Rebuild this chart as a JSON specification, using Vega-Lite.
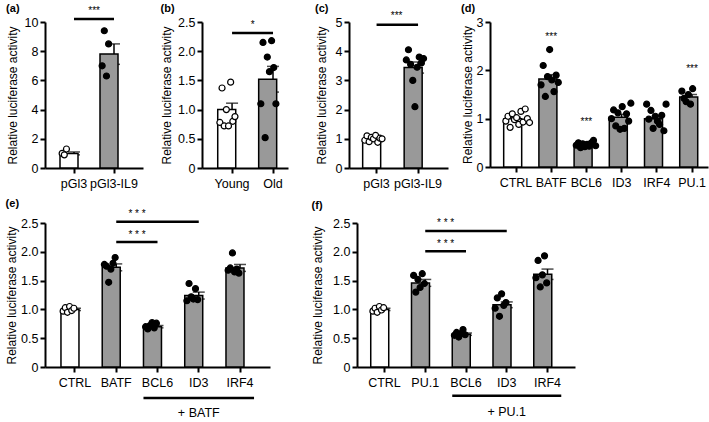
{
"$schema": "https://vega.github.io/schema/vega-lite/v6.json",
"padding": {"left": 5, "top": 3, "right": 3, "bottom": 1},
"background": "white",
"config": {
 "view": {"stroke": null},
 "font": "Liberation Sans",
 "axis": {"domainColor": "black", "domainWidth": 2, "tickColor": "black", "tickWidth": 2, "tickSize": 5, "labelColor": "black", "labelFontSize": 12.5, "titleFontSize": 12, "titleFontWeight": "normal", "titleColor": "black", "grid": false, "labelPadding": 2},
 "axisX": {"labelAngle": 0, "labelPadding": 4},
 "title": {"anchor": "start", "frame": "bounds", "fontSize": 11, "fontWeight": "bold", "color": "black", "offset": 2}
},
"datasets": {
 "summary": [
  {"panel": "a", "group": "pGl3", "v": 1.0, "sem": 0.1},
  {"panel": "a", "group": "pGl3-IL9", "v": 7.8, "sem": 0.7},
  {"panel": "b", "group": "Young", "v": 1.0, "sem": 0.11},
  {"panel": "b", "group": "Old", "v": 1.52, "sem": 0.22},
  {"panel": "c", "group": "pGl3", "v": 1.0, "sem": 0.03},
  {"panel": "c", "group": "pGl3-IL9", "v": 3.44, "sem": 0.19},
  {"panel": "d", "group": "CTRL", "v": 1.0, "sem": 0.03},
  {"panel": "d", "group": "BATF", "v": 1.82, "sem": 0.09},
  {"panel": "d", "group": "BCL6", "v": 0.45, "sem": 0.02},
  {"panel": "d", "group": "ID3", "v": 1.03, "sem": 0.06},
  {"panel": "d", "group": "IRF4", "v": 1.0, "sem": 0.06},
  {"panel": "d", "group": "PU.1", "v": 1.45, "sem": 0.05},
  {"panel": "e", "group": "CTRL", "v": 1.0, "sem": 0.02},
  {"panel": "e", "group": "BATF", "v": 1.73, "sem": 0.06},
  {"panel": "e", "group": "BCL6", "v": 0.7, "sem": 0.02},
  {"panel": "e", "group": "ID3", "v": 1.24, "sem": 0.06},
  {"panel": "e", "group": "IRF4", "v": 1.72, "sem": 0.06},
  {"panel": "f", "group": "CTRL", "v": 1.0, "sem": 0.02},
  {"panel": "f", "group": "PU.1", "v": 1.46, "sem": 0.06},
  {"panel": "f", "group": "BCL6", "v": 0.57, "sem": 0.02},
  {"panel": "f", "group": "ID3", "v": 1.08, "sem": 0.05},
  {"panel": "f", "group": "IRF4", "v": 1.61, "sem": 0.09}
 ],
 "points": [
  {"panel": "a", "group": "pGl3", "rep": 1, "v": 1.0},
  {"panel": "a", "group": "pGl3", "rep": 2, "v": 0.9},
  {"panel": "a", "group": "pGl3", "rep": 3, "v": 1.3},
  {"panel": "a", "group": "pGl3-IL9", "rep": 1, "v": 7.0},
  {"panel": "a", "group": "pGl3-IL9", "rep": 2, "v": 9.4},
  {"panel": "a", "group": "pGl3-IL9", "rep": 3, "v": 6.3},
  {"panel": "a", "group": "pGl3-IL9", "rep": 4, "v": 8.5},
  {"panel": "b", "group": "Young", "rep": 1, "v": 0.78},
  {"panel": "b", "group": "Young", "rep": 2, "v": 1.37},
  {"panel": "b", "group": "Young", "rep": 3, "v": 0.72},
  {"panel": "b", "group": "Young", "rep": 4, "v": 1.0},
  {"panel": "b", "group": "Young", "rep": 5, "v": 0.72},
  {"panel": "b", "group": "Young", "rep": 6, "v": 1.47},
  {"panel": "b", "group": "Young", "rep": 7, "v": 0.8},
  {"panel": "b", "group": "Young", "rep": 8, "v": 0.88},
  {"panel": "b", "group": "Old", "rep": 1, "v": 1.1},
  {"panel": "b", "group": "Old", "rep": 2, "v": 2.15},
  {"panel": "b", "group": "Old", "rep": 3, "v": 0.52},
  {"panel": "b", "group": "Old", "rep": 4, "v": 1.9},
  {"panel": "b", "group": "Old", "rep": 5, "v": 1.65},
  {"panel": "b", "group": "Old", "rep": 6, "v": 2.18},
  {"panel": "b", "group": "Old", "rep": 7, "v": 1.72},
  {"panel": "b", "group": "Old", "rep": 8, "v": 1.1},
  {"panel": "c", "group": "pGl3", "rep": 1, "v": 0.95},
  {"panel": "c", "group": "pGl3", "rep": 2, "v": 1.1},
  {"panel": "c", "group": "pGl3", "rep": 3, "v": 0.9},
  {"panel": "c", "group": "pGl3", "rep": 4, "v": 1.05},
  {"panel": "c", "group": "pGl3", "rep": 5, "v": 1.0},
  {"panel": "c", "group": "pGl3", "rep": 6, "v": 1.12},
  {"panel": "c", "group": "pGl3", "rep": 7, "v": 0.88},
  {"panel": "c", "group": "pGl3", "rep": 8, "v": 1.02},
  {"panel": "c", "group": "pGl3", "rep": 9, "v": 1.0},
  {"panel": "c", "group": "pGl3-IL9", "rep": 1, "v": 3.7},
  {"panel": "c", "group": "pGl3-IL9", "rep": 2, "v": 4.05},
  {"panel": "c", "group": "pGl3-IL9", "rep": 3, "v": 3.55},
  {"panel": "c", "group": "pGl3-IL9", "rep": 4, "v": 3.0},
  {"panel": "c", "group": "pGl3-IL9", "rep": 5, "v": 2.1},
  {"panel": "c", "group": "pGl3-IL9", "rep": 6, "v": 3.45},
  {"panel": "c", "group": "pGl3-IL9", "rep": 7, "v": 3.8},
  {"panel": "c", "group": "pGl3-IL9", "rep": 8, "v": 3.6},
  {"panel": "c", "group": "pGl3-IL9", "rep": 9, "v": 3.75},
  {"panel": "d", "group": "CTRL", "rep": 1, "v": 0.95},
  {"panel": "d", "group": "CTRL", "rep": 2, "v": 1.05},
  {"panel": "d", "group": "CTRL", "rep": 3, "v": 0.82},
  {"panel": "d", "group": "CTRL", "rep": 4, "v": 1.1},
  {"panel": "d", "group": "CTRL", "rep": 5, "v": 0.98},
  {"panel": "d", "group": "CTRL", "rep": 6, "v": 1.02},
  {"panel": "d", "group": "CTRL", "rep": 7, "v": 0.88},
  {"panel": "d", "group": "CTRL", "rep": 8, "v": 1.15},
  {"panel": "d", "group": "CTRL", "rep": 9, "v": 0.93},
  {"panel": "d", "group": "CTRL", "rep": 10, "v": 1.2},
  {"panel": "d", "group": "CTRL", "rep": 11, "v": 1.0},
  {"panel": "d", "group": "CTRL", "rep": 12, "v": 0.92},
  {"panel": "d", "group": "BATF", "rep": 1, "v": 1.7},
  {"panel": "d", "group": "BATF", "rep": 2, "v": 2.1},
  {"panel": "d", "group": "BATF", "rep": 3, "v": 1.46},
  {"panel": "d", "group": "BATF", "rep": 4, "v": 1.87},
  {"panel": "d", "group": "BATF", "rep": 5, "v": 2.43},
  {"panel": "d", "group": "BATF", "rep": 6, "v": 1.8},
  {"panel": "d", "group": "BATF", "rep": 7, "v": 1.56},
  {"panel": "d", "group": "BATF", "rep": 8, "v": 1.9},
  {"panel": "d", "group": "BATF", "rep": 9, "v": 1.75},
  {"panel": "d", "group": "BCL6", "rep": 1, "v": 0.45},
  {"panel": "d", "group": "BCL6", "rep": 2, "v": 0.5},
  {"panel": "d", "group": "BCL6", "rep": 3, "v": 0.4},
  {"panel": "d", "group": "BCL6", "rep": 4, "v": 0.48},
  {"panel": "d", "group": "BCL6", "rep": 5, "v": 0.42},
  {"panel": "d", "group": "BCL6", "rep": 6, "v": 0.47},
  {"panel": "d", "group": "BCL6", "rep": 7, "v": 0.43},
  {"panel": "d", "group": "BCL6", "rep": 8, "v": 0.5},
  {"panel": "d", "group": "BCL6", "rep": 9, "v": 0.55},
  {"panel": "d", "group": "BCL6", "rep": 10, "v": 0.44},
  {"panel": "d", "group": "ID3", "rep": 1, "v": 1.0},
  {"panel": "d", "group": "ID3", "rep": 2, "v": 1.18},
  {"panel": "d", "group": "ID3", "rep": 3, "v": 0.85},
  {"panel": "d", "group": "ID3", "rep": 4, "v": 1.12},
  {"panel": "d", "group": "ID3", "rep": 5, "v": 0.78},
  {"panel": "d", "group": "ID3", "rep": 6, "v": 1.25},
  {"panel": "d", "group": "ID3", "rep": 7, "v": 0.8},
  {"panel": "d", "group": "ID3", "rep": 8, "v": 1.1},
  {"panel": "d", "group": "ID3", "rep": 9, "v": 0.95},
  {"panel": "d", "group": "ID3", "rep": 10, "v": 1.32},
  {"panel": "d", "group": "IRF4", "rep": 1, "v": 1.3},
  {"panel": "d", "group": "IRF4", "rep": 2, "v": 0.99},
  {"panel": "d", "group": "IRF4", "rep": 3, "v": 1.17},
  {"panel": "d", "group": "IRF4", "rep": 4, "v": 0.8},
  {"panel": "d", "group": "IRF4", "rep": 5, "v": 1.05},
  {"panel": "d", "group": "IRF4", "rep": 6, "v": 0.95},
  {"panel": "d", "group": "IRF4", "rep": 7, "v": 0.88},
  {"panel": "d", "group": "IRF4", "rep": 8, "v": 1.07},
  {"panel": "d", "group": "IRF4", "rep": 9, "v": 0.75},
  {"panel": "d", "group": "IRF4", "rep": 10, "v": 1.3},
  {"panel": "d", "group": "PU.1", "rep": 1, "v": 1.57},
  {"panel": "d", "group": "PU.1", "rep": 2, "v": 1.42},
  {"panel": "d", "group": "PU.1", "rep": 3, "v": 1.35},
  {"panel": "d", "group": "PU.1", "rep": 4, "v": 1.5},
  {"panel": "d", "group": "PU.1", "rep": 5, "v": 1.3},
  {"panel": "d", "group": "PU.1", "rep": 6, "v": 1.62},
  {"panel": "e", "group": "CTRL", "rep": 1, "v": 0.97},
  {"panel": "e", "group": "CTRL", "rep": 2, "v": 1.03},
  {"panel": "e", "group": "CTRL", "rep": 3, "v": 0.95},
  {"panel": "e", "group": "CTRL", "rep": 4, "v": 1.05},
  {"panel": "e", "group": "CTRL", "rep": 5, "v": 0.98},
  {"panel": "e", "group": "CTRL", "rep": 6, "v": 1.02},
  {"panel": "e", "group": "BATF", "rep": 1, "v": 1.78},
  {"panel": "e", "group": "BATF", "rep": 2, "v": 1.75},
  {"panel": "e", "group": "BATF", "rep": 3, "v": 1.47},
  {"panel": "e", "group": "BATF", "rep": 4, "v": 1.7},
  {"panel": "e", "group": "BATF", "rep": 5, "v": 1.8},
  {"panel": "e", "group": "BATF", "rep": 6, "v": 1.9},
  {"panel": "e", "group": "BCL6", "rep": 1, "v": 0.7},
  {"panel": "e", "group": "BCL6", "rep": 2, "v": 0.66},
  {"panel": "e", "group": "BCL6", "rep": 3, "v": 0.72},
  {"panel": "e", "group": "BCL6", "rep": 4, "v": 0.77},
  {"panel": "e", "group": "BCL6", "rep": 5, "v": 0.68},
  {"panel": "e", "group": "BCL6", "rep": 6, "v": 0.76},
  {"panel": "e", "group": "ID3", "rep": 1, "v": 1.15},
  {"panel": "e", "group": "ID3", "rep": 2, "v": 1.45},
  {"panel": "e", "group": "ID3", "rep": 3, "v": 1.22},
  {"panel": "e", "group": "ID3", "rep": 4, "v": 1.18},
  {"panel": "e", "group": "ID3", "rep": 5, "v": 1.36},
  {"panel": "e", "group": "ID3", "rep": 6, "v": 1.17},
  {"panel": "e", "group": "IRF4", "rep": 1, "v": 1.68},
  {"panel": "e", "group": "IRF4", "rep": 2, "v": 1.72},
  {"panel": "e", "group": "IRF4", "rep": 3, "v": 1.98},
  {"panel": "e", "group": "IRF4", "rep": 4, "v": 1.65},
  {"panel": "e", "group": "IRF4", "rep": 5, "v": 1.7},
  {"panel": "e", "group": "IRF4", "rep": 6, "v": 1.63},
  {"panel": "f", "group": "CTRL", "rep": 1, "v": 0.97},
  {"panel": "f", "group": "CTRL", "rep": 2, "v": 1.02},
  {"panel": "f", "group": "CTRL", "rep": 3, "v": 0.95},
  {"panel": "f", "group": "CTRL", "rep": 4, "v": 1.05},
  {"panel": "f", "group": "CTRL", "rep": 5, "v": 0.99},
  {"panel": "f", "group": "CTRL", "rep": 6, "v": 1.03},
  {"panel": "f", "group": "PU.1", "rep": 1, "v": 1.59},
  {"panel": "f", "group": "PU.1", "rep": 2, "v": 1.3},
  {"panel": "f", "group": "PU.1", "rep": 3, "v": 1.52},
  {"panel": "f", "group": "PU.1", "rep": 4, "v": 1.38},
  {"panel": "f", "group": "PU.1", "rep": 5, "v": 1.62},
  {"panel": "f", "group": "PU.1", "rep": 6, "v": 1.45},
  {"panel": "f", "group": "BCL6", "rep": 1, "v": 0.55},
  {"panel": "f", "group": "BCL6", "rep": 2, "v": 0.6},
  {"panel": "f", "group": "BCL6", "rep": 3, "v": 0.52},
  {"panel": "f", "group": "BCL6", "rep": 4, "v": 0.58},
  {"panel": "f", "group": "BCL6", "rep": 5, "v": 0.65},
  {"panel": "f", "group": "BCL6", "rep": 6, "v": 0.56},
  {"panel": "f", "group": "ID3", "rep": 1, "v": 1.02},
  {"panel": "f", "group": "ID3", "rep": 2, "v": 1.2},
  {"panel": "f", "group": "ID3", "rep": 3, "v": 0.88},
  {"panel": "f", "group": "ID3", "rep": 4, "v": 1.27},
  {"panel": "f", "group": "ID3", "rep": 5, "v": 1.07},
  {"panel": "f", "group": "ID3", "rep": 6, "v": 1.12},
  {"panel": "f", "group": "IRF4", "rep": 1, "v": 1.55},
  {"panel": "f", "group": "IRF4", "rep": 2, "v": 1.85},
  {"panel": "f", "group": "IRF4", "rep": 3, "v": 1.39},
  {"panel": "f", "group": "IRF4", "rep": 4, "v": 1.6},
  {"panel": "f", "group": "IRF4", "rep": 5, "v": 1.93},
  {"panel": "f", "group": "IRF4", "rep": 6, "v": 1.46}
 ],
 "notes": [
  {"panel": "a", "kind": "line", "group": "pGl3", "to": "pGl3-IL9", "v": 10.2},
  {"panel": "a", "kind": "mid", "group": "pGl3", "v": 10.75, "label": "***"},
  {"panel": "b", "kind": "line", "group": "Young", "to": "Old", "v": 2.31},
  {"panel": "b", "kind": "mid", "group": "Young", "v": 2.45, "label": "*"},
  {"panel": "c", "kind": "line", "group": "pGl3", "to": "pGl3-IL9", "v": 4.91},
  {"panel": "c", "kind": "mid", "group": "pGl3", "v": 5.2, "label": "***"},
  {"panel": "d", "kind": "star", "group": "BATF", "v": 2.7, "label": "***"},
  {"panel": "d", "kind": "star", "group": "BCL6", "v": 0.93, "label": "***"},
  {"panel": "d", "kind": "star", "group": "PU.1", "v": 2.03, "label": "***"},
  {"panel": "e", "kind": "line", "group": "BATF", "to": "ID3", "v": 2.52},
  {"panel": "e", "kind": "mid", "group": "BATF", "v": 2.65, "label": "* * *"},
  {"panel": "e", "kind": "line", "group": "BATF", "to": "BCL6", "v": 2.17},
  {"panel": "e", "kind": "mid", "group": "BATF", "v": 2.29, "label": "* * *"},
  {"panel": "e", "kind": "under", "group": "BCL6", "to": "IRF4", "v": -0.54},
  {"panel": "e", "kind": "ulabel", "group": "ID3", "v": -0.8, "label": "+ BATF"},
  {"panel": "f", "kind": "line", "group": "PU.1", "to": "ID3", "v": 2.36},
  {"panel": "f", "kind": "mid", "group": "PU.1", "v": 2.5, "label": "* * *"},
  {"panel": "f", "kind": "line", "group": "PU.1", "to": "BCL6", "v": 2.01},
  {"panel": "f", "kind": "mid", "group": "PU.1", "v": 2.14, "label": "* * *"},
  {"panel": "f", "kind": "under", "group": "BCL6", "to": "IRF4", "v": -0.5},
  {"panel": "f", "kind": "ulabel", "group": "ID3", "v": -0.78, "label": "+ PU.1"}
 ]
},
"vconcat": [
 {"hconcat": [
  {"hconcat": [
   {"title": {"text": "(a)", "offset": -8}, "width": 98, "height": 146,
    "encoding": {
     "x": {"field": "group", "type": "nominal", "title": null, "scale": {"domain": ["pGl3", "pGl3-IL9"], "paddingInner": 0.3, "paddingOuter": 0.375}},
     "y": {"field": "v", "type": "quantitative", "title": "Relative luciferase activity", "scale": {"domain": [0, 10], "nice": false}, "axis": {"values": [0, 2, 4, 6, 8, 10], "titlePadding": 5}}
    },
    "layer": [
     {"data": {"name": "summary"}, "transform": [{"filter": "datum.panel == 'a'"}], "mark": {"type": "errorbar", "ticks": true, "size": 12, "thickness": 1.5, "color": "black"}, "encoding": {"yError": {"field": "sem"}}},
     {"data": {"name": "summary"}, "transform": [{"filter": "datum.panel == 'a'"}], "mark": {"type": "bar", "stroke": "black", "strokeWidth": 1.5}, "encoding": {"fill": {"condition": {"test": "indexof(['pGl3','Young','CTRL'], datum.group) >= 0", "value": "white"}, "value": "#999999"}}},
     {"data": {"name": "points"}, "transform": [{"filter": "datum.panel == 'a'"}], "mark": {"type": "circle", "size": 36, "stroke": "black", "strokeWidth": 1.2, "opacity": 1}, "encoding": {"xOffset": {"field": "rep", "type": "nominal", "scale": {"paddingOuter": 6}}, "fill": {"condition": {"test": "indexof(['pGl3','Young','CTRL'], datum.group) >= 0", "value": "white"}, "value": "black"}}},
     {"data": {"name": "notes"}, "transform": [{"filter": "datum.panel == 'a' && datum.kind == 'line'"}], "mark": {"type": "rule", "strokeWidth": 2.5, "color": "black"}, "encoding": {"x2": {"field": "to"}}},
     {"data": {"name": "notes"}, "transform": [{"filter": "datum.panel == 'a' && datum.kind == 'mid'"}], "mark": {"type": "text", "fontSize": 10, "color": "black"}, "encoding": {"x": {"field": "group", "type": "nominal", "bandPosition": 1.22, "title": null}, "text": {"field": "label"}}}
    ]
   },
   {"title": {"text": "(b)", "offset": 2}, "width": 86, "height": 146,
    "encoding": {
     "x": {"field": "group", "type": "nominal", "title": null, "scale": {"domain": ["Young", "Old"], "paddingInner": 0.3, "paddingOuter": 0.2, "align": 0.96}},
     "y": {"field": "v", "type": "quantitative", "title": "Relative luciferase activity", "scale": {"domain": [0, 2.5], "nice": false}, "axis": {"values": [0, 0.5, 1, 1.5, 2, 2.5], "labelExpr": "datum.value == 0 ? '0' : format(datum.value, '.1f')", "titlePadding": 4}}
    },
    "layer": [
     {"data": {"name": "summary"}, "transform": [{"filter": "datum.panel == 'b'"}], "mark": {"type": "errorbar", "ticks": true, "size": 12, "thickness": 1.5, "color": "black"}, "encoding": {"yError": {"field": "sem"}}},
     {"data": {"name": "summary"}, "transform": [{"filter": "datum.panel == 'b'"}], "mark": {"type": "bar", "stroke": "black", "strokeWidth": 1.5}, "encoding": {"fill": {"condition": {"test": "indexof(['pGl3','Young','CTRL'], datum.group) >= 0", "value": "white"}, "value": "#999999"}}},
     {"data": {"name": "points"}, "transform": [{"filter": "datum.panel == 'b'"}], "mark": {"type": "circle", "size": 36, "stroke": "black", "strokeWidth": 1.2, "opacity": 1}, "encoding": {"xOffset": {"field": "rep", "type": "nominal", "scale": {"paddingOuter": 1.8}}, "fill": {"condition": {"test": "indexof(['pGl3','Young','CTRL'], datum.group) >= 0", "value": "white"}, "value": "black"}}},
     {"data": {"name": "notes"}, "transform": [{"filter": "datum.panel == 'b' && datum.kind == 'line'"}], "mark": {"type": "rule", "strokeWidth": 2.5, "color": "black"}, "encoding": {"x2": {"field": "to"}}},
     {"data": {"name": "notes"}, "transform": [{"filter": "datum.panel == 'b' && datum.kind == 'mid'"}], "mark": {"type": "text", "fontSize": 10, "color": "black"}, "encoding": {"x": {"field": "group", "type": "nominal", "bandPosition": 1.22, "title": null}, "text": {"field": "label"}}}
    ]
   }
  ], "spacing": 17},
  {"hconcat": [
   {"title": {"text": "(c)", "offset": -3}, "width": 99, "height": 146,
    "encoding": {
     "x": {"field": "group", "type": "nominal", "title": null, "scale": {"domain": ["pGl3", "pGl3-IL9"], "paddingInner": 0.33, "paddingOuter": 0.358, "align": 0.46}},
     "y": {"field": "v", "type": "quantitative", "title": "Relative luciferase activity", "scale": {"domain": [0, 5], "nice": false}, "axis": {"values": [0, 1, 2, 3, 4, 5], "titlePadding": 7}}
    },
    "layer": [
     {"data": {"name": "summary"}, "transform": [{"filter": "datum.panel == 'c'"}], "mark": {"type": "errorbar", "ticks": true, "size": 12, "thickness": 1.5, "color": "black"}, "encoding": {"yError": {"field": "sem"}}},
     {"data": {"name": "summary"}, "transform": [{"filter": "datum.panel == 'c'"}], "mark": {"type": "bar", "stroke": "black", "strokeWidth": 1.5}, "encoding": {"fill": {"condition": {"test": "indexof(['pGl3','Young','CTRL'], datum.group) >= 0", "value": "white"}, "value": "#999999"}}},
     {"data": {"name": "points"}, "transform": [{"filter": "datum.panel == 'c'"}], "mark": {"type": "circle", "size": 36, "stroke": "black", "strokeWidth": 1.2, "opacity": 1}, "encoding": {"xOffset": {"field": "rep", "type": "nominal", "scale": {"paddingOuter": 2.5}}, "fill": {"condition": {"test": "indexof(['pGl3','Young','CTRL'], datum.group) >= 0", "value": "white"}, "value": "black"}}},
     {"data": {"name": "notes"}, "transform": [{"filter": "datum.panel == 'c' && datum.kind == 'line'"}], "mark": {"type": "rule", "strokeWidth": 2.5, "color": "black"}, "encoding": {"x2": {"field": "to"}}},
     {"data": {"name": "notes"}, "transform": [{"filter": "datum.panel == 'c' && datum.kind == 'mid'"}], "mark": {"type": "text", "fontSize": 10, "color": "black"}, "encoding": {"x": {"field": "group", "type": "nominal", "bandPosition": 1.22, "title": null}, "text": {"field": "label"}}}
    ]
   },
   {"title": {"text": "(d)", "offset": 2}, "width": 218, "height": 145,
    "encoding": {
     "x": {"field": "group", "type": "nominal", "title": null, "scale": {"domain": ["CTRL", "BATF", "BCL6", "ID3", "IRF4", "PU.1"], "paddingInner": 0.3, "paddingOuter": 0.246, "align": 0.79}},
     "y": {"field": "v", "type": "quantitative", "title": "Relative luciferase activity", "scale": {"domain": [0, 3], "nice": false}, "axis": {"values": [0, 1, 2, 3], "titlePadding": 2}}
    },
    "layer": [
     {"data": {"name": "summary"}, "transform": [{"filter": "datum.panel == 'd'"}], "mark": {"type": "errorbar", "ticks": true, "size": 10, "thickness": 1.5, "color": "black"}, "encoding": {"yError": {"field": "sem"}}},
     {"data": {"name": "summary"}, "transform": [{"filter": "datum.panel == 'd'"}], "mark": {"type": "bar", "stroke": "black", "strokeWidth": 1.5}, "encoding": {"fill": {"condition": {"test": "indexof(['pGl3','Young','CTRL'], datum.group) >= 0", "value": "white"}, "value": "#999999"}}},
     {"data": {"name": "points"}, "transform": [{"filter": "datum.panel == 'd'"}], "mark": {"type": "circle", "size": 36, "stroke": "black", "strokeWidth": 1.2, "opacity": 1}, "encoding": {"xOffset": {"field": "rep", "type": "nominal", "scale": {"paddingOuter": 2}}, "fill": {"condition": {"test": "indexof(['pGl3','Young','CTRL'], datum.group) >= 0", "value": "white"}, "value": "black"}}},
     {"data": {"name": "notes"}, "transform": [{"filter": "datum.panel == 'd' && datum.kind == 'star'"}], "mark": {"type": "text", "fontSize": 10, "color": "black"}, "encoding": {"text": {"field": "label"}}}
    ]
   }
  ], "spacing": 13}
 ], "spacing": 27},
 {"hconcat": [
  {"title": {"text": "(e)", "offset": 0}, "width": 225, "height": 144,
   "encoding": {
    "x": {"field": "group", "type": "nominal", "title": null, "scale": {"domain": ["CTRL", "BATF", "BCL6", "ID3", "IRF4"], "paddingInner": 0.32, "paddingOuter": 0.387}},
    "y": {"field": "v", "type": "quantitative", "title": "Relative luciferase activity", "scale": {"domain": [0, 2.5], "nice": false}, "axis": {"values": [0, 0.5, 1, 1.5, 2, 2.5], "labelExpr": "datum.value == 0 ? '0' : format(datum.value, '.1f')", "titlePadding": 2}}
   },
   "layer": [
    {"data": {"name": "summary"}, "transform": [{"filter": "datum.panel == 'e'"}], "mark": {"type": "errorbar", "ticks": true, "size": 12, "thickness": 1.5, "color": "black"}, "encoding": {"yError": {"field": "sem"}}},
    {"data": {"name": "summary"}, "transform": [{"filter": "datum.panel == 'e'"}], "mark": {"type": "bar", "stroke": "black", "strokeWidth": 1.5}, "encoding": {"fill": {"condition": {"test": "indexof(['pGl3','Young','CTRL'], datum.group) >= 0", "value": "white"}, "value": "#999999"}}},
    {"data": {"name": "points"}, "transform": [{"filter": "datum.panel == 'e'"}], "mark": {"type": "circle", "size": 36, "stroke": "black", "strokeWidth": 1.2, "opacity": 1}, "encoding": {"xOffset": {"field": "rep", "type": "nominal", "scale": {"paddingOuter": 0.6}}, "fill": {"condition": {"test": "indexof(['pGl3','Young','CTRL'], datum.group) >= 0", "value": "white"}, "value": "black"}}},
    {"data": {"name": "notes"}, "transform": [{"filter": "datum.panel == 'e' && datum.kind == 'line'"}], "mark": {"type": "rule", "strokeWidth": 2.5, "color": "black"}, "encoding": {"x2": {"field": "to"}}},
    {"data": {"name": "notes"}, "transform": [{"filter": "datum.panel == 'e' && datum.kind == 'mid'"}], "mark": {"type": "text", "fontSize": 10, "color": "black"}, "encoding": {"x": {"field": "group", "type": "nominal", "bandPosition": 1.24, "title": null}, "text": {"field": "label"}}},
    {"data": {"name": "notes"}, "transform": [{"filter": "datum.panel == 'e' && datum.kind == 'under'"}], "mark": {"type": "rule", "strokeWidth": 2.5, "color": "black"}, "encoding": {"x": {"field": "group", "type": "nominal", "bandPosition": 0, "title": null}, "x2": {"field": "to", "bandPosition": 1}}},
    {"data": {"name": "notes"}, "transform": [{"filter": "datum.panel == 'e' && datum.kind == 'ulabel'"}], "mark": {"type": "text", "fontSize": 12.5, "color": "black"}, "encoding": {"text": {"field": "label"}}}
   ]
  },
  {"title": {"text": "(f)", "offset": 6}, "width": 218, "height": 144,
   "encoding": {
    "x": {"field": "group", "type": "nominal", "title": null, "scale": {"domain": ["CTRL", "PU.1", "BCL6", "ID3", "IRF4"], "paddingInner": 0.325, "paddingOuter": 0.337}},
    "y": {"field": "v", "type": "quantitative", "title": "Relative luciferase activity", "scale": {"domain": [0, 2.5], "nice": false}, "axis": {"values": [0, 0.5, 1, 1.5, 2, 2.5], "labelExpr": "datum.value == 0 ? '0' : format(datum.value, '.1f')", "titlePadding": 8}}
   },
   "layer": [
    {"data": {"name": "summary"}, "transform": [{"filter": "datum.panel == 'f'"}], "mark": {"type": "errorbar", "ticks": true, "size": 12, "thickness": 1.5, "color": "black"}, "encoding": {"yError": {"field": "sem"}}},
    {"data": {"name": "summary"}, "transform": [{"filter": "datum.panel == 'f'"}], "mark": {"type": "bar", "stroke": "black", "strokeWidth": 1.5}, "encoding": {"fill": {"condition": {"test": "indexof(['pGl3','Young','CTRL'], datum.group) >= 0", "value": "white"}, "value": "#999999"}}},
    {"data": {"name": "points"}, "transform": [{"filter": "datum.panel == 'f'"}], "mark": {"type": "circle", "size": 36, "stroke": "black", "strokeWidth": 1.2, "opacity": 1}, "encoding": {"xOffset": {"field": "rep", "type": "nominal", "scale": {"paddingOuter": 0.6}}, "fill": {"condition": {"test": "indexof(['pGl3','Young','CTRL'], datum.group) >= 0", "value": "white"}, "value": "black"}}},
    {"data": {"name": "notes"}, "transform": [{"filter": "datum.panel == 'f' && datum.kind == 'line'"}], "mark": {"type": "rule", "strokeWidth": 2.5, "color": "black"}, "encoding": {"x2": {"field": "to"}}},
    {"data": {"name": "notes"}, "transform": [{"filter": "datum.panel == 'f' && datum.kind == 'mid'"}], "mark": {"type": "text", "fontSize": 10, "color": "black"}, "encoding": {"x": {"field": "group", "type": "nominal", "bandPosition": 1.24, "title": null}, "text": {"field": "label"}}},
    {"data": {"name": "notes"}, "transform": [{"filter": "datum.panel == 'f' && datum.kind == 'under'"}], "mark": {"type": "rule", "strokeWidth": 2.5, "color": "black"}, "encoding": {"x": {"field": "group", "type": "nominal", "bandPosition": 0, "title": null}, "x2": {"field": "to", "bandPosition": 1}}},
    {"data": {"name": "notes"}, "transform": [{"filter": "datum.panel == 'f' && datum.kind == 'ulabel'"}], "mark": {"type": "text", "fontSize": 12.5, "color": "black"}, "encoding": {"text": {"field": "label"}}}
   ]
  }
 ], "spacing": 41}
], "spacing": 8
}
